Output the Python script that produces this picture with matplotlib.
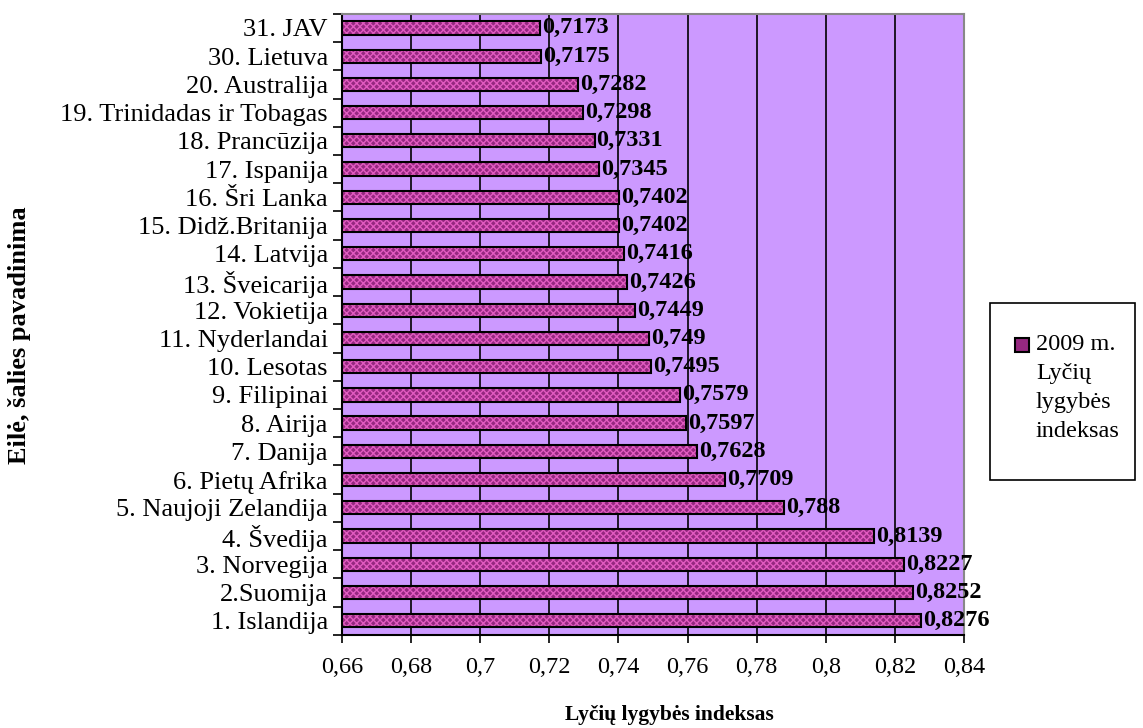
import matplotlib
matplotlib.use('Agg')
import matplotlib.pyplot as plt
from matplotlib.patches import Rectangle
import numpy as np

plt.rcParams['font.family'] = ['Liberation Serif', 'DejaVu Serif']
plt.rcParams['hatch.linewidth'] = 1.0

# Šalys (nuo apačios į viršų) ir indekso reikšmės
countries = ['1. Islandija', '2.Suomija', '3. Norvegija', '4. Švedija',
             '5. Naujoji Zelandija', '6. Pietų Afrika', '7. Danija', '8. Airija',
             '9. Filipinai', '10. Lesotas', '11. Nyderlandai', '12. Vokietija',
             '13. Šveicarija', '14. Latvija', '15. Didž.Britanija', '16. Šri Lanka',
             '17. Ispanija', '18. Prancūzija', '19. Trinidadas ir Tobagas',
             '20. Australija', '30. Lietuva', '31. JAV']
values = [0.8276, 0.8252, 0.8227, 0.8139, 0.788, 0.7709, 0.7628, 0.7597,
          0.7579, 0.7495, 0.749, 0.7449, 0.7426, 0.7416, 0.7402, 0.7402,
          0.7345, 0.7331, 0.7298, 0.7282, 0.7175, 0.7173]
value_labels = ['0,8276', '0,8252', '0,8227', '0,8139', '0,788', '0,7709', '0,7628',
                '0,7597', '0,7579', '0,7495', '0,749', '0,7449', '0,7426', '0,7416',
                '0,7402', '0,7402', '0,7345', '0,7331', '0,7298', '0,7282',
                '0,7175', '0,7173']
xticks = [0.66, 0.68, 0.70, 0.72, 0.74, 0.76, 0.78, 0.80, 0.82, 0.84]
xtick_labels = ['0,66', '0,68', '0,7', '0,72', '0,74', '0,76', '0,78', '0,8', '0,82', '0,84']

BAR_FACE = '#962880'
BAR_HATCH = '#E25AC0'

x0 = 0.66
fig = plt.figure(figsize=(11.43, 7.28), dpi=100)
ax = fig.add_axes([0.299, 0.128, 0.5445, 0.853])
ax.set_facecolor('#CC99FF')

y = np.arange(len(countries))
widths = [v - x0 for v in values]

# užpildas su raštu, tada juodas kontūras
ax.barh(y, widths, left=x0, height=0.47, color=BAR_FACE, edgecolor=BAR_HATCH,
        hatch='xxxxx', linewidth=0, zorder=3)
ax.barh(y, widths, left=x0, height=0.47, fill=False, edgecolor='black',
        linewidth=1.5, zorder=4)

for yi, v, lab in zip(y, values, value_labels):
    ax.text(v + 0.0006, yi, lab, va='center', ha='left', fontsize=17.5,
            fontweight='bold', zorder=5)

ax.set_xlim(0.66, 0.84)
ax.set_ylim(-0.5, len(countries) - 0.5)
ax.set_xticks(xticks)
ax.set_xticklabels(xtick_labels, fontsize=17.5)
ax.set_yticks(y)
ax.set_yticklabels(countries, fontsize=19)
ax.set_yticks(np.arange(-0.5, len(countries)), minor=True)
ax.tick_params(axis='y', which='major', length=0, pad=10)
ax.tick_params(axis='y', which='minor', length=6.5, width=1.2, direction='out')
ax.tick_params(axis='x', length=6, width=1.2, direction='out', pad=10)

ax.grid(axis='x', color='black', linewidth=1.2, zorder=1)
ax.set_axisbelow(True)
for side in ['top', 'right']:
    ax.spines[side].set_color('#888888')
    ax.spines[side].set_linewidth(1.5)
for side in ['left', 'bottom']:
    ax.spines[side].set_linewidth(1.5)

ax.set_xlabel('Lyčių lygybės indeksas', fontsize=15.5, fontweight='bold')
ax.xaxis.set_label_coords(0.527, -0.113)
ax.set_ylabel('Eilė, šalies pavadinima', fontsize=19, fontweight='bold')
ax.yaxis.set_label_coords(-0.5, 0.483)

# legenda
fig.patches.append(Rectangle((990 / 1143, 1 - 480 / 728), 145 / 1143, 177 / 728,
                             transform=fig.transFigure, facecolor='white',
                             edgecolor='black', linewidth=1.2))
fig.patches.append(Rectangle((1015 / 1143, 1 - 352 / 728), 14 / 1143, 14 / 728,
                             transform=fig.transFigure, facecolor=BAR_FACE,
                             edgecolor='black', linewidth=1.5))
fig.text(1036 / 1143, 1 - 334 / 728, '2009 m.\nLyčių\nlygybės\nindeksas',
         fontsize=17.5, va='top', ha='left', linespacing=1.5)

fig.savefig('out.png', dpi=100)
